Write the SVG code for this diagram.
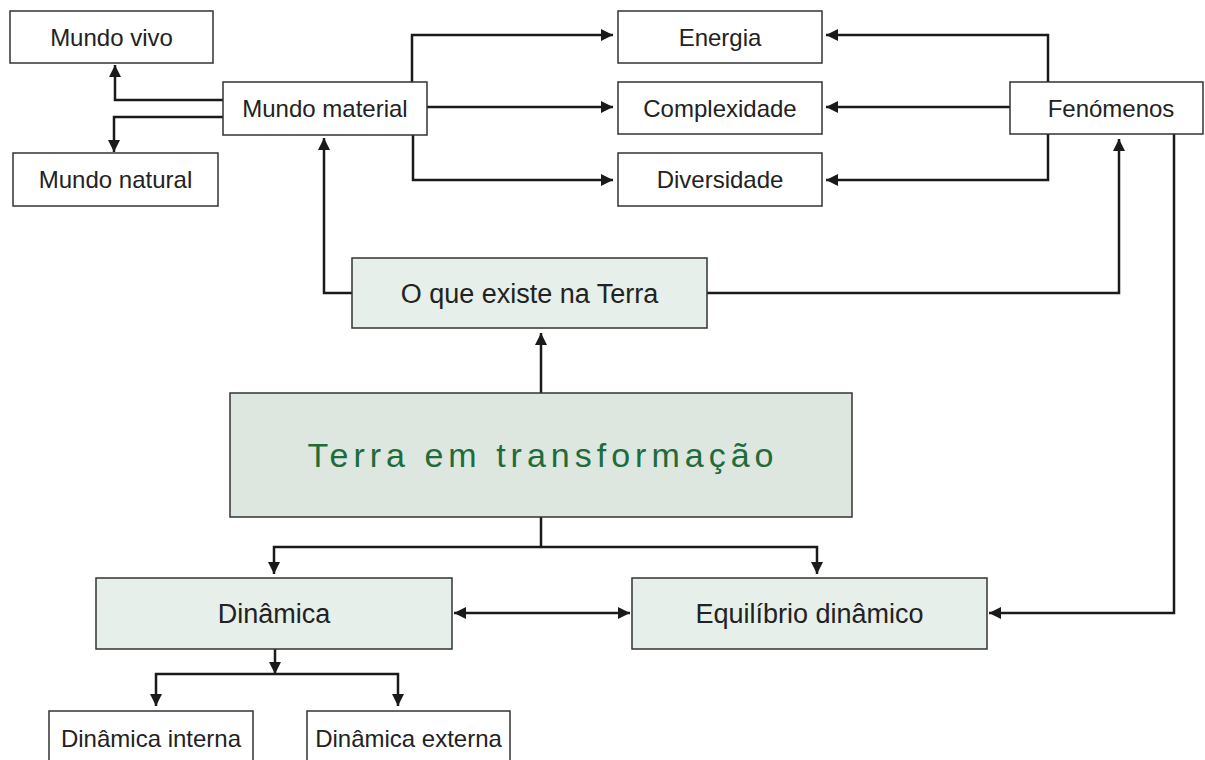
<svg xmlns="http://www.w3.org/2000/svg" width="1205" height="760" viewBox="0 0 1205 760">
<style>
.box{fill:#ffffff;stroke:#333333;stroke-width:1.5}
.gbox{fill:#e6efe9;stroke:#333333;stroke-width:1.5}
.tbox{fill:#dde7df;stroke:#333333;stroke-width:1.5}
.t{font-family:"Liberation Sans",Arial,sans-serif;font-size:24px;fill:#222222;text-anchor:middle}
.tl{font-family:"Liberation Sans",Arial,sans-serif;font-size:27px;fill:#222222;text-anchor:middle}
.tt{font-family:"Liberation Sans",Arial,sans-serif;font-size:34px;fill:#1f6b3b;text-anchor:middle;letter-spacing:5px}
.c path{fill:none;stroke:#1a1a1a;stroke-width:2.5}
</style>
<defs>
<marker id="ah" markerUnits="userSpaceOnUse" markerWidth="13" markerHeight="13" refX="12" refY="6.5" orient="auto-start-reverse">
<path d="M0,0.5 L12,6.5 L0,12.5 z" fill="#1a1a1a"/>
</marker>
</defs>
<rect width="1205" height="760" fill="#ffffff"/>
<g class="c" id="connectors">
<path d="M223,100 H115 V65" marker-end="url(#ah)"/>
<path d="M223,117 H114 V152" marker-end="url(#ah)"/>
<path d="M412,82 V35 H613" marker-end="url(#ah)"/>
<path d="M427,107 H613" marker-end="url(#ah)"/>
<path d="M413,135 V180 H613" marker-end="url(#ah)"/>
<path d="M1048,82 V35 H826" marker-end="url(#ah)"/>
<path d="M1012,107 H826" marker-end="url(#ah)"/>
<path d="M1048,134 V180 H826" marker-end="url(#ah)"/>
<path d="M352,293 H324 V138" marker-end="url(#ah)"/>
<path d="M707,293 H1119 V139" marker-end="url(#ah)"/>
<path d="M541,393 V333" marker-end="url(#ah)"/>
<path d="M541,517 V547"/>
<path d="M541,547 H274 V574" marker-end="url(#ah)"/>
<path d="M541,547 H817 V574" marker-end="url(#ah)"/>
<path d="M1174,134 V613 H989" marker-end="url(#ah)"/>
<path d="M454,613 H630" marker-start="url(#ah)" marker-end="url(#ah)"/>
<path d="M275,649 V674" marker-end="url(#ah)"/>
<path d="M275,674 H156 V706" marker-end="url(#ah)"/>
<path d="M275,674 H398 V706" marker-end="url(#ah)"/>
</g>
<g id="mundo-vivo"><rect class="box" x="10" y="11" width="203" height="52"/><text class="t" x="111.5" y="46">Mundo vivo</text></g>
<g id="mundo-natural"><rect class="box" x="13" y="153" width="205" height="53"/><text class="t" x="115.5" y="188">Mundo natural</text></g>
<g id="mundo-material"><rect class="box" x="223" y="82" width="204" height="53"/><text class="t" x="325" y="117">Mundo material</text></g>
<g id="energia"><rect class="box" x="618" y="11" width="204" height="52"/><text class="t" x="720" y="46">Energia</text></g>
<g id="complexidade"><rect class="box" x="618" y="82" width="204" height="52"/><text class="t" x="720" y="117">Complexidade</text></g>
<g id="diversidade"><rect class="box" x="618" y="153" width="204" height="53"/><text class="t" x="720" y="188">Diversidade</text></g>
<g id="fenomenos"><rect class="box" x="1010" y="82" width="193" height="52"/><text class="t" x="1111" y="117">Fenómenos</text></g>
<g id="o-que-existe"><rect class="gbox" x="352" y="258" width="355" height="70"/><text class="tl" x="529.5" y="303">O que existe na Terra</text></g>
<g id="terra"><rect class="tbox" x="230" y="393" width="622" height="124"/><text class="tt" x="543" y="467">Terra em transformação</text></g>
<g id="dinamica"><rect class="gbox" x="96" y="578" width="356" height="71"/><text class="tl" x="274" y="623">Dinâmica</text></g>
<g id="equilibrio"><rect class="gbox" x="632" y="578" width="355" height="71"/><text class="tl" x="809.5" y="623">Equilíbrio dinâmico</text></g>
<g id="dinamica-interna"><rect class="box" x="49" y="711" width="204" height="60"/><text class="t" x="151" y="747">Dinâmica interna</text></g>
<g id="dinamica-externa"><rect class="box" x="307" y="711" width="203" height="60"/><text class="t" x="408.5" y="747">Dinâmica externa</text></g>
</svg>
